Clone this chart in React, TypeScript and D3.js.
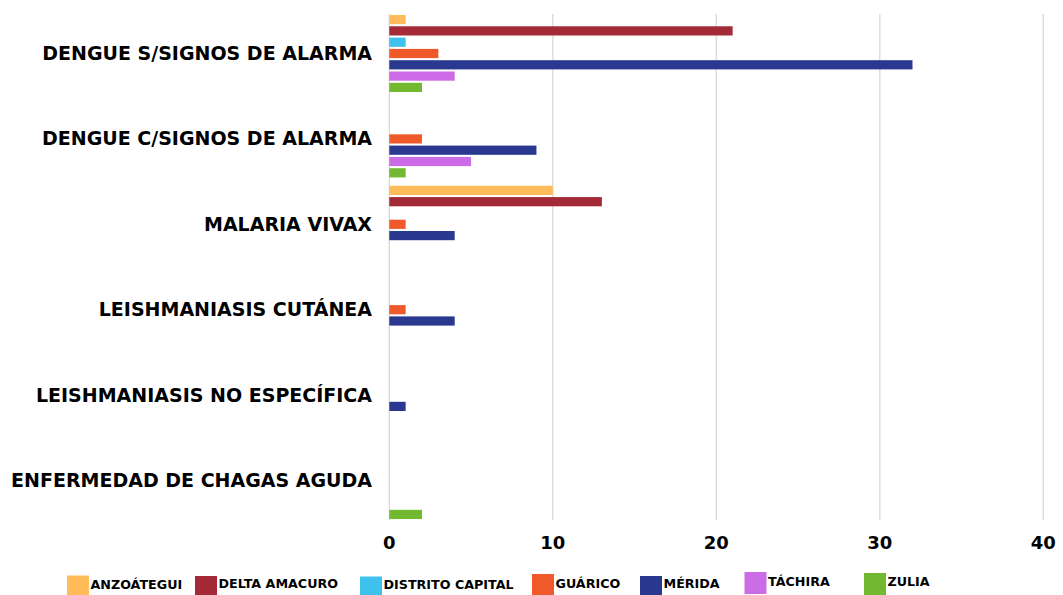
import React from "react";
import * as d3 from "d3";

const categories = [
  "DENGUE S/SIGNOS DE ALARMA",
  "DENGUE C/SIGNOS DE ALARMA",
  "MALARIA VIVAX",
  "LEISHMANIASIS CUTÁNEA",
  "LEISHMANIASIS NO ESPECÍFICA",
  "ENFERMEDAD DE CHAGAS AGUDA",
];
const seriesNames = [
  "ANZOÁTEGUI",
  "DELTA AMACURO",
  "DISTRITO CAPITAL",
  "GUÁRICO",
  "MÉRIDA",
  "TÁCHIRA",
  "ZULIA",
];
// values per series, in category order
const anzoategui = [1, 0, 10, 0, 0, 0];
const deltaAmacuro = [21, 0, 13, 0, 0, 0];
const distritoCapital = [1, 0, 0, 0, 0, 0];
const guarico = [3, 2, 1, 1, 0, 0];
const merida = [32, 9, 4, 4, 1, 0];
const tachira = [4, 5, 0, 0, 0, 0];
const zulia = [2, 1, 0, 0, 0, 2];
const seriesValues = [anzoategui, deltaAmacuro, distritoCapital, guarico, merida, tachira, zulia];
const xTicks = [0, 10, 20, 30, 40];

const colors = ["#FFBC5B", "#A32A36", "#3EC1EC", "#F05A2B", "#2B388F", "#CB6CE6", "#72B831"];

// legend layout (pixel positions)
const legendX = [67, 195, 360, 532, 640, 744.5, 864];
const legendTop = [575.5, 576, 576.5, 574, 576, 572, 573];
const legendBase = [588.5, 587.7, 589, 588, 588, 586, 586];

const FONT = "'DejaVu Sans', sans-serif";

export default function App() {
  const W = 1063;
  const H = 595;
  const x = d3.scaleLinear().domain([0, 40]).range([389.3, 1043.3]);
  const step = 85.4;
  const y0 = 10.8;
  const y = d3
    .scaleBand<string>()
    .domain(categories)
    .range([y0, y0 + 6 * step])
    .paddingInner(0.098)
    .paddingOuter(0.049);
  const inner = d3
    .scaleBand<string>()
    .domain(seriesNames)
    .range([0, y.bandwidth()])
    .paddingInner(0.186)
    .paddingOuter(0);

  const gridTop = 14;
  const gridBottom = 520;

  return (
    <svg
      width={W}
      height={H}
      style={{ position: "absolute", left: 0, top: 0, background: "#fff" }}
      fontFamily={FONT}
    >
      <rect x={0} y={0} width={W} height={H} fill="#fff" />
      {xTicks.map((t) => (
        <line
          key={"g" + t}
          x1={x(t)}
          x2={x(t)}
          y1={gridTop}
          y2={gridBottom}
          stroke="#d9d9d9"
          strokeWidth={1.3}
        />
      ))}
      {categories.map((c, ci) => (
        <g key={c}>
          {seriesNames.map((s, si) => {
            const v = seriesValues[si][ci];
            if (!v) return null;
            return (
              <rect
                key={s}
                x={x(0)}
                y={(y(c) as number) + (inner(s) as number)}
                width={x(v) - x(0)}
                height={inner.bandwidth()}
                fill={colors[si]}
              />
            );
          })}
          <text
            x={372}
            y={(y(c) as number) + y.bandwidth() / 2 + 6.5}
            textAnchor="end"
            fontSize={19}
            fontWeight="bold"
            fill="#000"
          >
            {c}
          </text>
        </g>
      ))}
      {xTicks.map((t) => (
        <text
          key={"t" + t}
          x={x(t)}
          y={549}
          textAnchor="middle"
          fontSize={18}
          fontWeight="bold"
          fill="#000"
        >
          {t}
        </text>
      ))}
      {seriesNames.map((s, i) => (
        <g key={"l" + s}>
          <rect x={legendX[i]} y={legendTop[i]} width={22} height={22} fill={colors[i]} />
          <text
            x={legendX[i] + 23.5}
            y={legendBase[i]}
            fontSize={12.7}
            fontWeight="bold"
            fill="#000"
          >
            {s}
          </text>
        </g>
      ))}
    </svg>
  );
}
